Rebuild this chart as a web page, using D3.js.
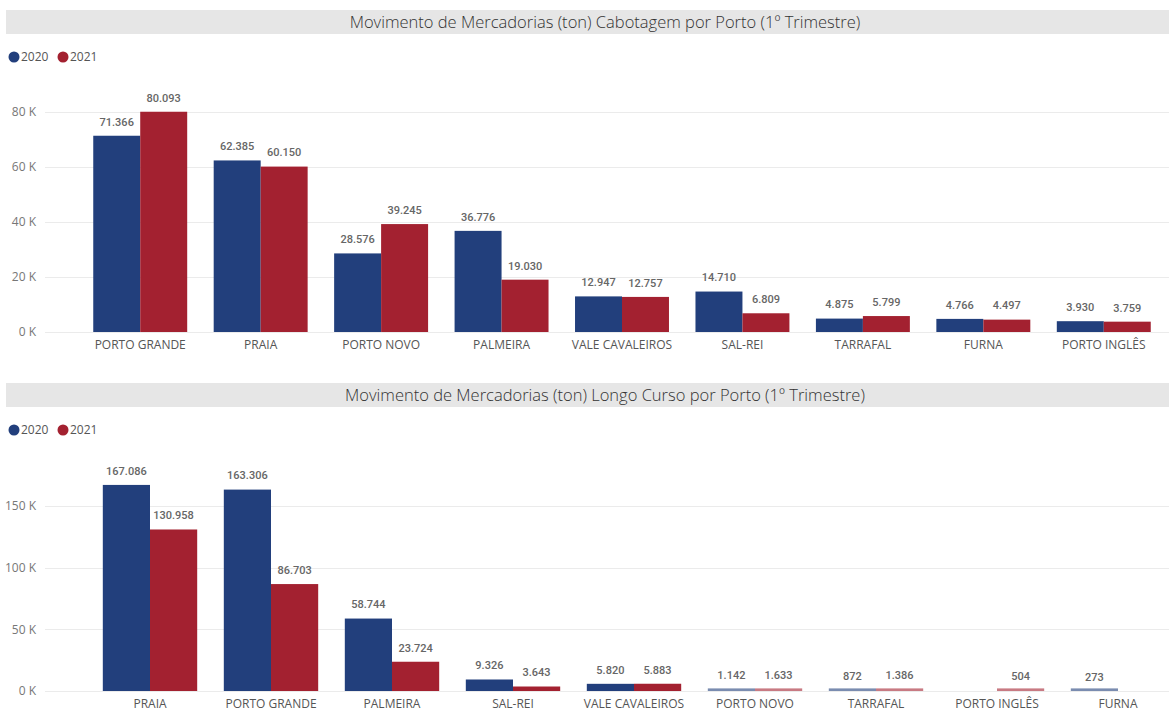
<!DOCTYPE html>
<html><head><meta charset="utf-8">
<script src="https://cdn.jsdelivr.net/npm/d3@7"></script>
<style>body{margin:0;background:#fff}svg{display:block}</style>
</head><body>
<script>
const seriesNames = ["2020", "2021"];
const colors = ["#223f7c", "#a32130"];

const titleTop = "Movimento de Mercadorias (ton) Cabotagem por Porto (1º Trimestre)";
const catsTop = ["PORTO GRANDE","PRAIA","PORTO NOVO","PALMEIRA","VALE CAVALEIROS","SAL-REI","TARRAFAL","FURNA","PORTO INGLÊS"];
const top2020 = [71366, 62385, 28576, 36776, 12947, 14710, 4875, 4766, 3930];
const top2021 = [80093, 60150, 39245, 19030, 12757, 6809, 5799, 4497, 3759];
const ticksTop = [0, 20000, 40000, 60000, 80000];

const titleBot = "Movimento de Mercadorias (ton) Longo Curso por Porto (1º Trimestre)";
const catsBot = ["PRAIA","PORTO GRANDE","PALMEIRA","SAL-REI","VALE CAVALEIROS","PORTO NOVO","TARRAFAL","PORTO INGLÊS","FURNA"];
const bot2020 = [167086, 163306, 58744, 9326, 5820, 1142, 872, null, 273];
const bot2021 = [130958, 86703, 23724, 3643, 5883, 1633, 1386, 504, null];
const ticksBot = [0, 50000, 100000, 150000];

const W = 1169, H = 713;
const svg = d3.select("body").append("svg").attr("width", W).attr("height", H);

function fmt(v){ return d3.format(",")(v).replace(/,/g, "."); }

function panel(cfg){
  const g = svg.append("g");
  g.append("rect").attr("x", 6).attr("y", cfg.barY).attr("width", W - 6).attr("height", 24).attr("fill", "#e6e6e6");
  g.append("text").attr("x", 605).attr("y", cfg.barY + 12).attr("dy", "0.35em")
    .attr("text-anchor", "middle").attr("font-family", "'Open Sans', sans-serif").attr("font-weight", 300)
    .attr("font-size", 16.5).attr("fill", "#333").text(cfg.title);
  const lg = g.append("g").attr("transform", `translate(0,${cfg.legY})`);
  seriesNames.forEach((s, i) => {
    const x0 = 14 + i * 49;
    lg.append("circle").attr("cx", x0).attr("cy", 0).attr("r", 5.5).attr("fill", colors[i]);
    lg.append("text").attr("x", x0 + 7).attr("y", 0).attr("dy", "0.35em")
      .attr("font-family", "'Open Sans', sans-serif").attr("font-size", 12).attr("fill", "#555").text(s);
  });
  const y = d3.scaleLinear().domain([0, cfg.ymax]).range([cfg.y0, cfg.y0 - cfg.pxPer * cfg.ymax]);
  const x = d3.scaleBand().domain(cfg.cats).range(cfg.xr).paddingInner(0.22).paddingOuter(0.11);
  const xs = d3.scaleBand().domain(seriesNames).range([0, x.bandwidth()]);
  g.append("g").selectAll("line").data(cfg.ticks).join("line")
    .attr("x1", 45).attr("x2", W).attr("y1", d => Math.round(y(d)) + 0.5).attr("y2", d => Math.round(y(d)) + 0.5)
    .attr("stroke", "#ebebeb").attr("stroke-width", 1);
  const ya = g.append("g").attr("transform", "translate(36,0)")
    .call(d3.axisLeft(y).tickValues(cfg.ticks).tickSize(0).tickPadding(0).tickFormat(d => (d / 1000) + " K"));
  ya.select(".domain").remove();
  ya.selectAll("text").attr("font-family", "'Open Sans', sans-serif").attr("font-size", 12).attr("fill", "#777");
  const xa = g.append("g").attr("transform", `translate(0,${cfg.y0})`)
    .call(d3.axisBottom(x).tickSize(0).tickPadding(8));
  xa.select(".domain").remove();
  xa.selectAll("text").attr("font-family", "'Open Sans', sans-serif").attr("font-size", 12).attr("fill", "#555");
  const data = [];
  cfg.cats.forEach((c, i) => {
    cfg.vals.forEach((arr, k) => { if (arr[i] != null) data.push({c, s: seriesNames[k], k, v: arr[i]}); });
  });
  const h = d => y(0) - y(d.v);
  g.append("g").selectAll("rect").data(data).join("rect")
    .attr("x", d => x(d.c) + xs(d.s)).attr("width", xs.bandwidth())
    .attr("y", d => y(0) - Math.max(h(d), 2.6)).attr("height", d => Math.max(h(d), 2.6))
    .attr("fill", d => colors[d.k]).attr("fill-opacity", d => h(d) < 2.6 ? 0.6 : 1);
  g.append("g").selectAll("text").data(data).join("text")
    .attr("x", d => x(d.c) + xs(d.s) + xs.bandwidth() / 2)
    .attr("y", d => y(d.v) - 14).attr("dy", "0.35em").attr("text-anchor", "middle")
    .attr("font-family", "Roboto, sans-serif").attr("font-weight", 500).attr("font-size", 11).attr("fill", "#666")
    .text(d => fmt(d.v));
}

panel({title: titleTop, barY: 10, legY: 57, cats: catsTop, vals: [top2020, top2021], ticks: ticksTop,
  ymax: 80000, y0: 332, pxPer: 220 / 80000, xr: [80, 1164]});
panel({title: titleBot, barY: 383, legY: 430, cats: catsBot, vals: [bot2020, bot2021], ticks: ticksBot,
  ymax: 150000, y0: 691, pxPer: 185 / 150000, xr: [89.5, 1178.5]});
</script>
</body></html>
